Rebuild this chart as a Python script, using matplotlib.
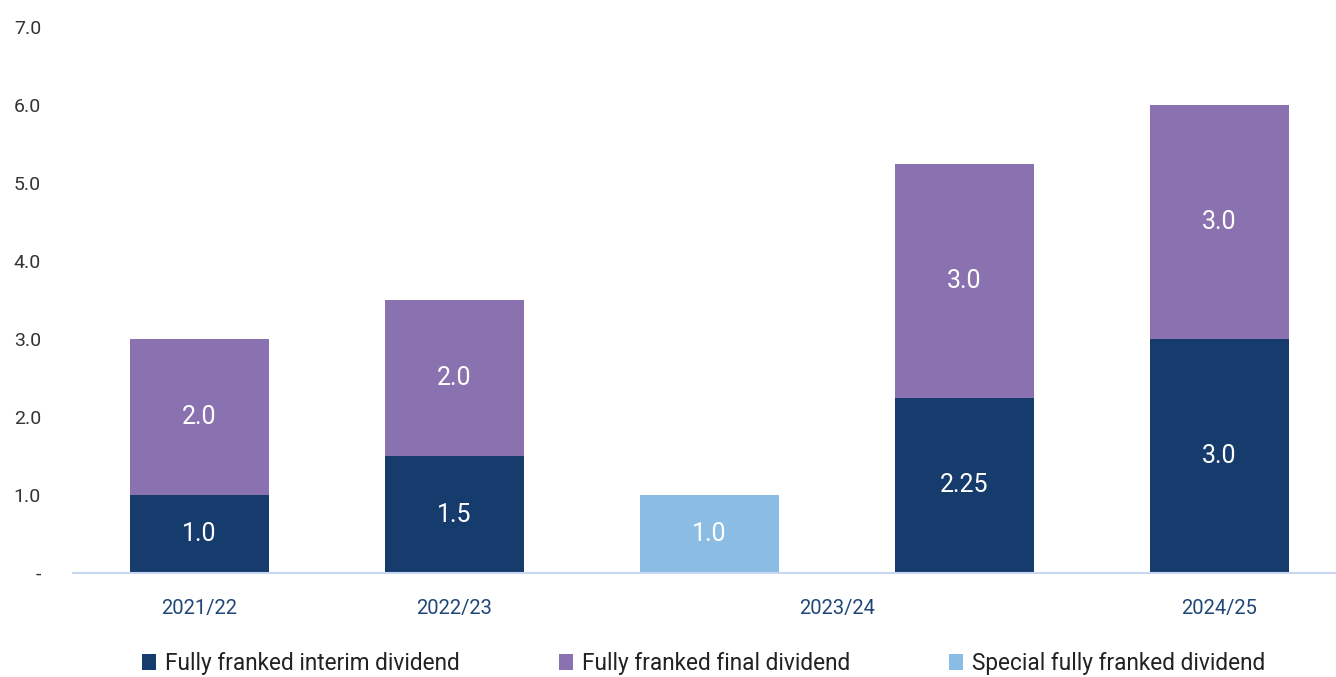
import matplotlib.pyplot as plt
import numpy as np

plt.rcParams['font.family'] = ['Roboto', 'DejaVu Sans']

# one entry per bar (2023/24 has a special bar and a regular bar)
bar_years = ["2021/22", "2022/23", "2023/24", "2023/24", "2024/25"]
interim = [1.0, 1.5, 0.0, 2.25, 3.0]
final = [2.0, 2.0, 0.0, 3.0, 3.0]
special = [0.0, 0.0, 1.0, 0.0, 0.0]
interim_lbl = ["1.0", "1.5", "", "2.25", "3.0"]
final_lbl = ["2.0", "2.0", "", "3.0", "3.0"]
special_lbl = ["", "", "1.0", "", ""]
yticks = [0, 1, 2, 3, 4, 5, 6, 7]
ytick_lbl = ["-", "1.0", "2.0", "3.0", "4.0", "5.0", "6.0", "7.0"]

c_interim = "#163b6d"
c_final = "#8a72b0"
c_special = "#8bbde4"

fig = plt.figure(figsize=(13.36, 6.77), dpi=100)
ax = fig.add_axes([0.0546, 0.1536, 0.9454, 0.8064])

x = np.arange(len(bar_years))
w = 0.545
b1 = ax.bar(x, interim, w, color=c_interim, label="Fully franked interim dividend")
b2 = ax.bar(x, final, w, bottom=interim, color=c_final, label="Fully franked final dividend")
b3 = ax.bar(x, special, w, color=c_special, label="Special fully franked dividend")

vfs = 18
for i in range(len(x)):
    if interim_lbl[i]:
        ax.text(x[i], interim[i] / 2, interim_lbl[i], ha="center", va="center",
                color="white", fontsize=vfs)
    if final_lbl[i]:
        ax.text(x[i], interim[i] + final[i] / 2, final_lbl[i], ha="center", va="center",
                color="white", fontsize=vfs)
    if special_lbl[i]:
        ax.text(x[i], special[i] / 2, special_lbl[i], ha="center", va="center",
                color="white", fontsize=vfs)

# category labels centred under each year's bars
years = list(dict.fromkeys(bar_years))
pos = [np.mean([x[i] for i in range(len(x)) if bar_years[i] == y]) for y in years]
ax.set_xticks(pos)
ax.set_xticklabels(years, color="#1f4677", fontsize=14.5)
ax.tick_params(axis="x", length=0, pad=19)

ax.set_ylim(0, 7)
ax.set_xlim(-0.496, 4.457)
ax.set_yticks(yticks)
ax.set_yticklabels(ytick_lbl, color="#333333", fontsize=14)
ax.tick_params(axis="y", length=0, pad=23)

for s in ["top", "right", "left"]:
    ax.spines[s].set_visible(False)
ax.spines["bottom"].set_color("#c9d8f0")
ax.spines["bottom"].set_linewidth(1.5)

fig.legend(handles=[b1, b2, b3], loc="center left", bbox_to_anchor=(0.091, 0.02),
           ncol=3, frameon=False, fontsize=16.3, handlelength=0.6, handleheight=0.75,
           handletextpad=0.4, columnspacing=4.4, labelcolor="#222222")

fig.savefig("out.png", dpi=100)
